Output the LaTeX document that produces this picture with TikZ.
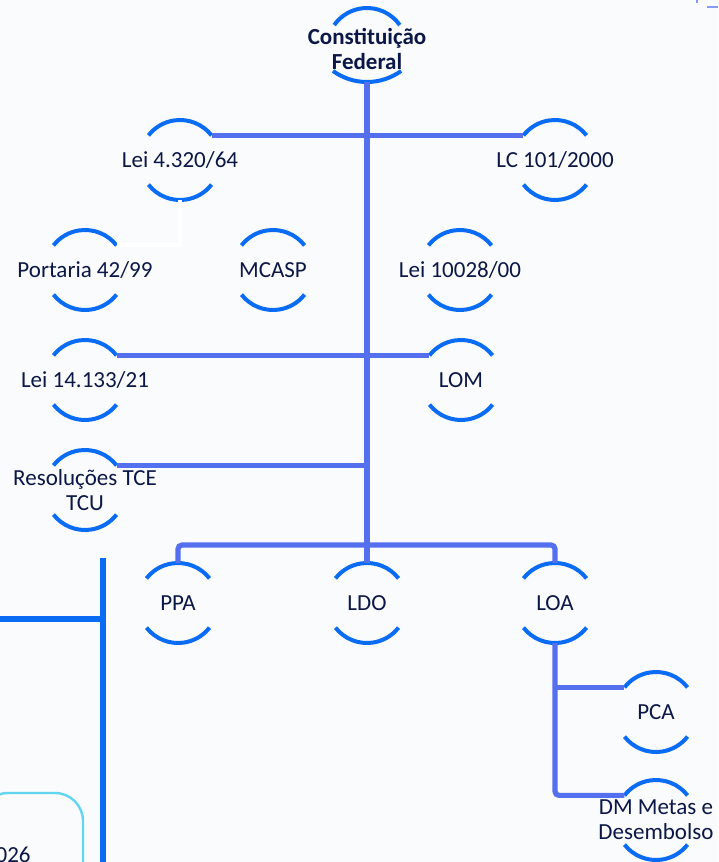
\documentclass[tikz,border=0pt]{standalone}
\usepackage{fontspec}
\setmainfont{Carlito}
\usetikzlibrary{calc}
\definecolor{ringblue}{HTML}{0A6CF5}
\definecolor{linkblue}{HTML}{5570EE}
\definecolor{inkblue}{HTML}{0B1746}
\definecolor{boxcyan}{HTML}{62D6F0}
\definecolor{paper}{HTML}{FAFBFC}
\begin{document}
\begin{tikzpicture}[x=0.5pt, y=0.5pt,
    lbl/.style={text=inkblue, align=center, inner sep=0pt,
                font=\fontsize{11.5}{12.5}\selectfont},
    ring/.style={draw=ringblue, line width=2pt},
    link/.style={draw=linkblue, line width=2.6pt, rounded corners=2pt},
    ghost/.style={draw=white, line width=2pt}]
      \def\rr{40}
      %
      \fill[paper] (0,0) rectangle (718,-862);   % page
      \useasboundingbox (0,0) rectangle (718,-862);
      \clip (0,0) rectangle (718,-862);
      %
      \coordinate (cftop) at (367,-48);   % ring centres of the top label
      \coordinate (cfbot) at (367,-24);
      \node[lbl, font=\bfseries\fontsize{11.5}{12.5}\selectfont] (cf) at (367,-49) {Constituição\\Federal};
      \node[lbl] (lei) at (180,-160) {Lei 4.320/64};
      \node[lbl] (lc) at (555,-160) {LC 101/2000};
      \node[lbl] (por) at (85,-270) {Portaria 42/99};
      \node[lbl] (mcasp) at (273,-270) {MCASP};
      \node[lbl] (lcrime) at (460,-270) {Lei 10028/00};
      \node[lbl] (lic) at (85,-380) {Lei 14.133/21};
      \node[lbl] (lom) at (461,-380) {LOM};
      \node[lbl] (tce) at (85,-490) {Resoluções TCE\\TCU};
      \node[lbl] (ppa) at (178,-603) {PPA};
      \node[lbl] (ldo) at (367,-603) {LDO};
      \node[lbl] (loa) at (555,-603) {LOA};
      \node[lbl] (pca) at (656,-712) {PCA};
      \node[lbl] (dm) at (656,-820) {DM Metas e\\Desembolso};
      %
      % open rings round each label
      \draw[ring] ($(cftop)+(35:40)$) arc (35:145:40);
      \draw[ring] ($(cfbot)+(234:58)$) arc (234:306:58);
      \foreach \n in {lei, lc, por, mcasp, lcrime, lic, lom, tce, ppa, ldo, loa, pca, dm} {
        \draw[ring] ($(\n.center)+(38:\rr)$) arc (38:142:\rr);
        \draw[ring] ($(\n.center)+(218:\rr)$) arc (218:322:\rr);
      }
      %
      \coordinate (tceend) at ($(tce.center)+(38:\rr)$);
      \coordinate (pcaend) at ($(pca.center)+(142:\rr)$);
      %
      \draw[ghost] ($(lei.center)+(0,-\rr)$) |- ($(por.center)+(38:\rr)$);
      %
      \draw[link] ($(cfbot)+(0,-58)$) -- ($(ldo.center)+(0,\rr)$);   % trunk
      \draw[link] ($(lei.center)+(38:\rr)$) -- ($(lc.center)+(142:\rr)$);
      \draw[link] ($(lic.center)+(38:\rr)$) -- ($(lom.center)+(142:\rr)$);
      \draw[link] (tceend) -- (tceend -| ldo.center);
      \draw[link] ($(ppa.center)+(0,\rr)$) |- ($(loa.center)+(0,58)$) -- ($(loa.center)+(0,\rr)$);
      \draw[link] ($(loa.center)+(0,-\rr)$) |- ($(dm.center)+(142:\rr)$);
      \draw[link] (pcaend -| loa.center) -- (pcaend);
      %
      % cut pieces at the edges
      \draw[ringblue, line width=2.6pt] (103,-558) -- (103,-870);
      \draw[ringblue, line width=2.6pt] (-5,-619) -- (103,-619);
      \draw[boxcyan, line width=1.2pt, rounded corners=14pt] (-20,-793) rectangle (83,-920);
      \node[lbl, anchor=base east] (year) at (31,-862) {2026};
      \draw[linkblue!70, line width=1pt] (697,0) -- (697,-3);
      \draw[linkblue!70, line width=1pt] (707,-7) -- (718,-7);
      %
    \end{tikzpicture}
\end{document}
